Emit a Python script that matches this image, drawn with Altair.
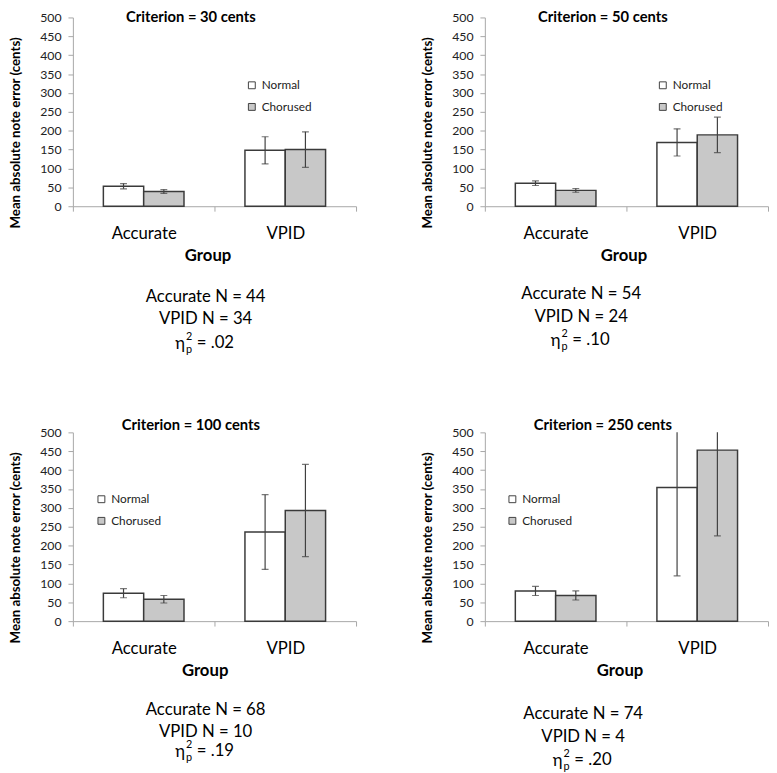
import altair as alt
import pandas as pd

# ---------------- data ----------------
criteria = [30, 50, 100, 250]
groups = ["Accurate", "VPID"]
conditions = ["Normal", "Chorused"]
# per panel: [Accurate-Normal, Accurate-Chorused, VPID-Normal, VPID-Chorused]
means = [
    [53, 39, 148, 150],
    [61, 42, 169, 189],
    [74, 58, 236, 293],
    [80, 68, 354, 453],
]
errors = [
    [7, 5, 36, 47],
    [6, 5, 36, 47],
    [12, 10, 99, 122],
    [12, 12, 234, 227],
]
accurate_n = [44, 54, 68, 74]
vpid_n = [34, 24, 10, 4]
eta_sq = [".02", ".10", ".19", ".20"]
y_ticks = list(range(0, 501, 50))
fill_colors = ["#ffffff", "#c8c8c8"]

# ---------------- style / layout ----------------
FONT = "Lato"
W, H = 288, 192
legend_xy = [(176, 63), (175, 63), (23, 62), (22, 62)]
text_cx = [135, 98, 135, 100]
text_y = [(284, 307, 331), (281, 305, 328), (282, 305, 324), (287, 310, 333)]
title_pos = [(-7, "top"), (-7, "top"), (-7, "middle"), (-7, "middle")]
group_title_x = [137, 141, 134, 137]
YTITLE = "Mean absolute note error (cents)"
DARK = "#404040"
AXIS_GRAY = "#a6a6a6"


def panel(i):
    rows = []
    k = 0
    for g in groups:
        for c in conditions:
            m = means[i][k]
            e = errors[i][k]
            rows.append({"group": g, "cond": c, "mean": m, "lo": m - e, "hi": m + e})
            k += 1
    df = pd.DataFrame(rows)
    base = alt.Chart(df)

    x = alt.X(
        "group:N",
        sort=groups,
        scale=alt.Scale(paddingInner=0, paddingOuter=0),
        title="Group",
        axis=alt.Axis(
            labelAngle=0, tickBand="extent", domainColor=AXIS_GRAY, tickColor=AXIS_GRAY,
            tickSize=5, labelFont=FONT, labelFontSize=17, labelColor="black",
            labelPadding=15, titleFont=FONT, titleFontSize=17, titleFontWeight="bold",
            titleColor="black", titlePadding=6, titleX=group_title_x[i],
        ),
    )
    xoff = alt.XOffset("cond:N", sort=conditions,
                       scale=alt.Scale(paddingInner=0, paddingOuter=0.756))
    yscale = alt.Scale(domain=[0, 500], nice=False)
    yaxis = alt.Axis(
        values=y_ticks, grid=False, domainColor=AXIS_GRAY, tickColor=AXIS_GRAY,
        tickSize=5, labelFont=FONT, labelFontSize=12.5, labelColor="#222222",
        labelPadding=7, labelFlush=False, labelOverlap=False,
        titleFont=FONT, titleFontSize=13.5, titleFontWeight="bold", titleColor="black",
        titlePadding=18, titleY=117,
    )

    def Y(field):
        return alt.Y(field, scale=yscale, axis=yaxis, title=YTITLE)

    lx, ly = legend_xy[i]
    bars = base.mark_bar(stroke="#3a3a3a", strokeWidth=1.5).encode(
        x=x, xOffset=xoff, y=Y("mean:Q"),
        fill=alt.Fill(
            "cond:N", sort=conditions,
            scale=alt.Scale(domain=conditions, range=fill_colors),
            legend=alt.Legend(
                title=None, orient="none", legendX=lx, legendY=ly,
                symbolType="square", symbolSize=49, symbolStrokeColor=DARK,
                symbolStrokeWidth=1, labelFont=FONT, labelFontSize=12,
                labelColor="#222222", rowPadding=10, padding=0, labelOffset=4,
            ),
        ),
    )
    err = base.mark_rule(color=DARK, strokeWidth=1.2, clip=True).encode(
        x=x, xOffset=xoff, y=Y("lo:Q"), y2="hi:Q")
    cap_hi = base.mark_tick(color=DARK, size=7, thickness=1.2, clip=True).encode(
        x=x, xOffset=xoff, y=Y("hi:Q"))
    cap_lo = base.mark_tick(color=DARK, size=7, thickness=1.2, clip=True).encode(
        x=x, xOffset=xoff, y=Y("lo:Q"))

    ty, tb = title_pos[i]
    title = alt.Chart(pd.DataFrame({"t": [f"Criterion = {criteria[i]} cents"]})).mark_text(
        font=FONT, fontSize=15, fontWeight="bold", align="center", baseline=tb, color="black"
    ).encode(x=alt.value(120), y=alt.value(ty), text="t:N")

    cx = text_cx[i]
    y1, y2, y3 = text_y[i]

    def txt(s, xx, yy, size=17, align="center", baseline="middle"):
        return alt.Chart(pd.DataFrame({"t": [s]})).mark_text(
            font=FONT, fontSize=size, align=align, baseline=baseline, color="black"
        ).encode(x=alt.value(xx), y=alt.value(yy), text="t:N")

    line1 = txt(f"Accurate N = {accurate_n[i]}", cx, y1)
    line2 = txt(f"VPID N = {vpid_n[i]}", cx, y2)
    eta = txt("η", cx - 21, y3 + 1, align="right")
    sup = txt("2", cx - 20, y3 - 6, size=11, align="left")
    sub = txt("p", cx - 20, y3 + 7, size=11, align="left")
    eq = txt(f"= {eta_sq[i]}", cx - 9, y3, align="left")

    return alt.layer(bars, err, cap_hi, cap_lo, title, line1, line2, eta, sup, sub, eq).properties(
        width=W, height=H)


chart = (
    alt.concat(panel(0), panel(1), panel(2), panel(3), columns=2,
               spacing={"row": 230, "column": 131}, bounds="flush")
    .resolve_scale(fill="independent")
    .properties(padding={"left": 0, "top": -4, "right": 0, "bottom": 5}, background="white")
    .configure_view(stroke=None)
)

chart.save("out.html", embed_options={"renderer": "svg", "actions": False})
